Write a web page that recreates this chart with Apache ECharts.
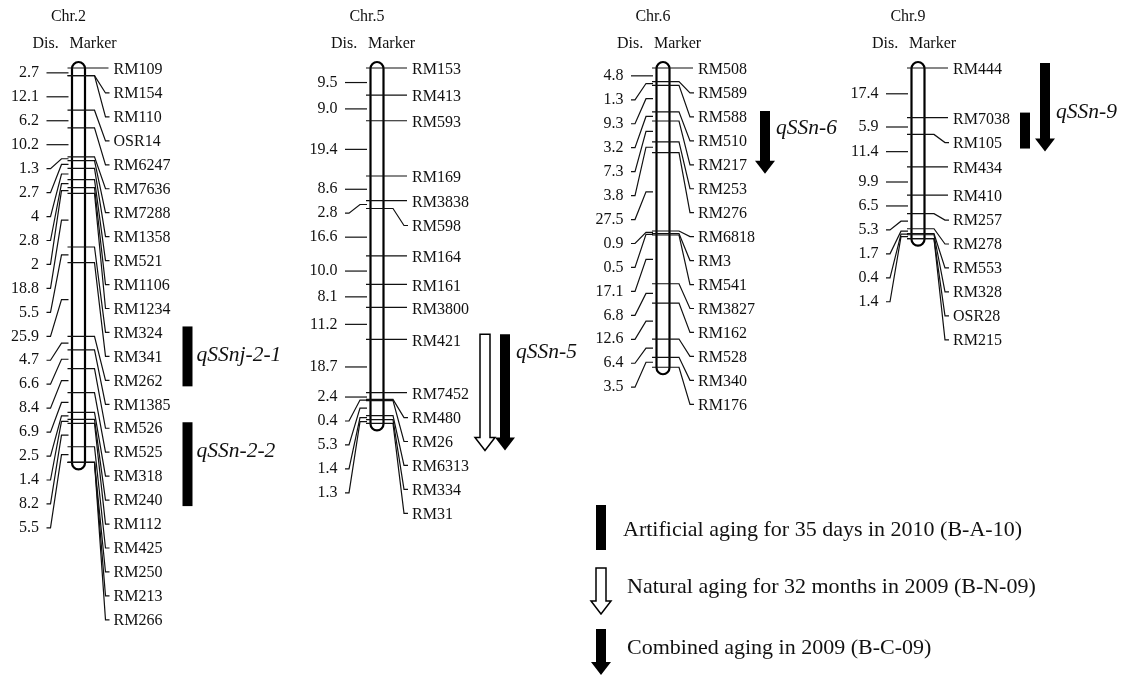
<!DOCTYPE html>
<html>
<head>
<meta charset="utf-8">
<script src="https://cdn.jsdelivr.net/npm/echarts@6/dist/echarts.min.js"></script>
<style>
  html, body { margin: 0; padding: 0; background: #fff; }
  #main { width: 1126px; height: 675px; }
</style>
</head>
<body>
<div id="main"></div>
<script>
// chromosomes and their markers (top to bottom), distances between neighbours in cM
const chromNames = ['Chr.2', 'Chr.5', 'Chr.6', 'Chr.9'];

const chr2Markers = ['RM109', 'RM154', 'RM110', 'OSR14', 'RM6247', 'RM7636', 'RM7288', 'RM1358', 'RM521', 'RM1106',
  'RM1234', 'RM324', 'RM341', 'RM262', 'RM1385', 'RM526', 'RM525', 'RM318', 'RM240', 'RM112', 'RM425', 'RM250', 'RM213', 'RM266'];
const chr2Dist = ['2.7', '0', '12.1', '6.2', '10.2', '1.3', '2.7', '4', '2.8', '2', '18.8', '5.5', '25.9', '4.7', '6.6',
  '8.4', '6.9', '2.5', '1.4', '8.2', '5.5', '0', '0'];

const chr5Markers = ['RM153', 'RM413', 'RM593', 'RM169', 'RM3838', 'RM598', 'RM164', 'RM161', 'RM3800', 'RM421',
  'RM7452', 'RM480', 'RM26', 'RM6313', 'RM334', 'RM31'];
const chr5Dist = ['9.5', '9.0', '19.4', '8.6', '2.8', '16.6', '10.0', '8.1', '11.2', '18.7', '2.4', '0.4', '5.3', '1.4', '1.3'];

const chr6Markers = ['RM508', 'RM589', 'RM588', 'RM510', 'RM217', 'RM253', 'RM276', 'RM6818', 'RM3', 'RM541',
  'RM3827', 'RM162', 'RM528', 'RM340', 'RM176'];
const chr6Dist = ['4.8', '1.3', '9.3', '3.2', '7.3', '3.8', '27.5', '0.9', '0.5', '17.1', '6.8', '12.6', '6.4', '3.5'];

const chr9Markers = ['RM444', 'RM7038', 'RM105', 'RM434', 'RM410', 'RM257', 'RM278', 'RM553', 'RM328', 'OSR28', 'RM215'];
const chr9Dist = ['17.4', '5.9', '11.4', '9.9', '6.5', '5.3', '1.7', '0.4', '1.4', '0'];

const chromMarkers = [chr2Markers, chr5Markers, chr6Markers, chr9Markers];
const chromDist = [chr2Dist, chr5Dist, chr6Dist, chr9Dist];

// QTLs: name, and the marks drawn for them (aging type, flanking markers, lane)
const qtlNames = ['qSSnj-2-1', 'qSSn-2-2', 'qSSn-5', 'qSSn-6', 'qSSn-9'];
const qtlChrom = [0, 0, 1, 2, 3];
const qtlMarkQtl = [0, 1, 2, 2, 3, 4, 4];
const qtlMarkType = ['A', 'A', 'N', 'C', 'C', 'A', 'C'];
const qtlMarkFrom = ['RM324', 'RM526', 'RM421', 'RM421', 'RM588', 'RM7038', 'RM444'];
const qtlMarkTo = ['RM262', 'RM240', 'RM26', 'RM26', 'RM217', 'RM105', 'RM105'];
const qtlMarkLane = [0, 0, 0, 1, 0, 0, 1];

const legendTypes = ['A', 'N', 'C'];
const legendTexts = ['Artificial aging for 35 days in 2010 (B-A-10)', 'Natural aging for 32 months in 2009 (B-N-09)',
  'Combined aging in 2009 (B-C-09)'];

// layout
const chromX = [78.5, 377, 663, 918];
const qtlLaneDx = [109, 108, 102, 107];
const laneGap = 20;
const qtlLabelDy = [29, 29, 18, 17, 49];
const labelGap = 23.95;
const FONT = '"Liberation Serif", "Times New Roman", serif';

function cumulative(dist) {
  const p = [0];
  dist.forEach(d => p.push(p[p.length - 1] + Number(d)));
  return p;
}
function spread(ideal) {
  const out = [];
  ideal.forEach((y, k) => out.push(k ? Math.max(y, out[k - 1] + labelGap) : y));
  return out;
}
function txt(s, x, y, align, size, italic) {
  return {
    type: 'text',
    style: {
      text: s, x: x, y: y, fill: '#111',
      font: (italic ? 'italic ' : '') + (size || 16) + 'px ' + FONT,
      align: align, verticalAlign: 'middle'
    }
  };
}
function line(pts, w) {
  return { type: 'polyline', shape: { points: pts }, style: { stroke: '#111', lineWidth: w || 1.2, fill: null } };
}
// bar / open arrow / filled arrow for one aging type
function qtlShape(type, x, top, bottom) {
  if (type === 'A') {
    return { type: 'rect', shape: { x: x - 5, y: top, width: 10, height: bottom - top }, style: { fill: '#000' } };
  }
  const hb = bottom - 13;
  return {
    type: 'polygon',
    shape: { points: [[x - 5, top], [x + 5, top], [x + 5, hb], [x + 10, hb], [x, bottom], [x - 10, hb], [x - 5, hb]] },
    style: type === 'N' ? { fill: '#fff', stroke: '#000', lineWidth: 1.5 } : { fill: '#000' }
  };
}

function renderChrom(params, api) {
  const i = api.value(2);
  const c = api.coord([chromX[i], 0])[0];
  const markers = chromMarkers[i];
  const dist = chromDist[i];
  const py = cumulative(dist).map(p => api.coord([chromX[i], p])[1]);
  const y0 = py[0];
  const yEnd = py[py.length - 1];
  const ch = [];

  ch.push(txt(chromNames[i], c - 10, y0 - 51, 'center'));
  ch.push(txt('Dis.', c - 46, y0 - 24, 'left'));
  ch.push(txt('Marker', c - 9, y0 - 24, 'left'));

  ch.push({
    type: 'rect',
    shape: { x: c - 6.5, y: y0 - 6, width: 13, height: yEnd - y0 + 13, r: 6.5 },
    style: { fill: '#fff', stroke: '#000', lineWidth: 2.2 }
  });

  // marker labels on the right
  const ly = spread(py.map(y => y + 2));
  markers.forEach((m, k) => {
    const my = py[k], t = ly[k];
    if (Math.abs(t - 2 - my) <= 3) ch.push(line([[c - 11, my], [c + 30, my]]));
    else ch.push(line([[c - 11, my], [c + 16, my], [c + 27, t - 1], [c + 31, t - 1]]));
    ch.push(txt(m, c + 35, t, 'left'));
  });

  // interval distances on the left
  const mids = [], labs = [];
  dist.forEach((d, k) => {
    if (Number(d) > 0) { mids.push((py[k] + py[k + 1]) / 2); labs.push(d); }
  });
  const dy = spread(mids.map(y => y + 1));
  labs.forEach((d, k) => {
    const t = dy[k], my = mids[k];
    if (Math.abs(t - 1 - my) <= 5) ch.push(line([[c - 32, t], [c - 10, t]]));
    else ch.push(line([[c - 32, t], [c - 28, t], [c - 17, my], [c - 10, my]]));
    ch.push(txt(d, c - 39.5, t, 'right'));
  });

  // QTL marks
  qtlNames.forEach((name, q) => {
    if (qtlChrom[q] !== i) return;
    let top = Infinity, labelX = 0;
    qtlMarkQtl.forEach((mq, j) => {
      if (mq !== q) return;
      const x = c + qtlLaneDx[i] + qtlMarkLane[j] * laneGap;
      const type = qtlMarkType[j];
      const a = ly[markers.indexOf(qtlMarkFrom[j])] - 7;
      const b = ly[markers.indexOf(qtlMarkTo[j])] + (type === 'A' ? 5 : 8);
      ch.push(qtlShape(type, x, a, b));
      top = Math.min(top, a);
      labelX = Math.max(labelX, x + (type === 'A' ? 9 : 11));
    });
    ch.push(txt(name, labelX, top + qtlLabelDy[q], 'left', 21.5, true));
  });

  return { type: 'group', children: ch };
}

const chart = echarts.init(document.getElementById('main'));

const legendGraphics = [];
const legendBoxes = [[505, 550], [568, 614], [629, 675]];
const legendTextY = [530, 587, 648];
legendTypes.forEach((t, k) => {
  legendGraphics.push(qtlShape(t, 601, legendBoxes[k][0], legendBoxes[k][1]));
  legendGraphics.push({
    type: 'text', x: 0, y: 0,
    style: { text: legendTexts[k], x: k ? 627 : 623, y: legendTextY[k], fill: '#111',
      font: '22px ' + FONT, align: 'left', verticalAlign: 'middle' }
  });
});

chart.setOption({
  animation: false,
  backgroundColor: '#fff',
  grid: { left: 0, right: 0, top: 68, bottom: 37 },
  xAxis: { type: 'value', min: 0, max: 1126, show: false },
  yAxis: { type: 'value', min: 0, max: 200, inverse: true, show: false },
  graphic: legendGraphics,
  series: [{
    type: 'custom',
    silent: true,
    clip: false,
    renderItem: renderChrom,
    encode: { x: 0, y: 1 },
    data: chromX.map((x, i) => [x, 0, i])
  }]
});
window.addEventListener('resize', function () { chart.resize(); });
</script>
</body>
</html>
